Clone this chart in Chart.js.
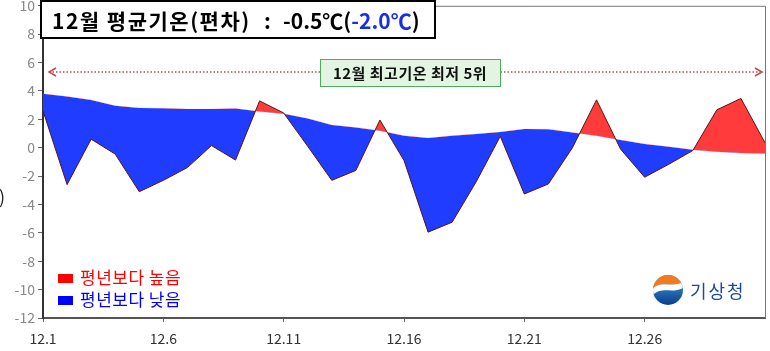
<!DOCTYPE html>
<html>
<head>
<meta charset="utf-8">
<script src="https://cdn.jsdelivr.net/npm/chart.js@4"></script>
<style>
  html, body { margin: 0; padding: 0; background: #fff; }
  #wrap { width: 770px; height: 351px; position: relative; }
</style>
</head>
<body>
<div id="wrap"><canvas id="chart" width="770" height="351"></canvas></div>
<script>
// December 1..31
const days = Array.from({ length: 31 }, (_, i) => i + 1);
// daily mean temperature deviation (°C)
const daily = [2.6, -2.6, 0.6, -0.45, -3.1, -2.3, -1.4, 0.15, -0.87, 3.3,
  2.45, 0.1, -2.3, -1.6, 1.95, -0.9, -5.95, -5.25, -2.4, 0.8,
  -3.26, -2.55, 0.0, 3.37, -0.1, -2.08, -1.17, -0.2, 2.67, 3.47, 0.35];
// climatological normal (°C)
const normal = [3.8, 3.6, 3.37, 2.95, 2.8, 2.78, 2.72, 2.72, 2.76, 2.55,
  2.4, 2.05, 1.6, 1.43, 1.2, 0.85, 0.68, 0.84, 0.96, 1.1,
  1.31, 1.3, 1.08, 0.84, 0.54, 0.26, 0.07, -0.15, -0.28, -0.38, -0.4];
const yTicks = [10, 8, 6, 4, 2, 0, -2, -4, -6, -8, -10, -12];

const KR = '"Noto Sans CJK KR", "Noto Sans", sans-serif';

const overlay = {
  id: 'overlay',
  afterDraw(chart) {
    const { ctx, chartArea: a } = chart;
    ctx.save();
    // frame top/right
    ctx.strokeStyle = '#777';
    ctx.lineWidth = 1;
    ctx.beginPath();
    ctx.moveTo(a.left, a.top + 0.5);
    ctx.lineTo(a.right + 0.5, a.top + 0.5);
    ctx.lineTo(a.right + 0.5, a.bottom);
    ctx.stroke();

    // title box
    ctx.fillStyle = '#fff';
    ctx.fillRect(41, 1, 394, 37);
    ctx.strokeStyle = '#000';
    ctx.lineWidth = 2;
    ctx.strokeRect(41, 1, 394, 37);
    ctx.font = 'bold 21px ' + KR;
    ctx.textBaseline = 'middle';
    ctx.textAlign = 'left';
    ctx.fillStyle = '#000';
    ctx.letterSpacing = '1.5px';
    ctx.fillText('12월 평균기온(편차)', 52, 21);
    ctx.letterSpacing = '0px';
    ctx.fillText(':', 264, 21);
    ctx.fillText('-0.5℃(', 283, 21);
    let x = 283 + ctx.measureText('-0.5℃(').width;
    ctx.fillStyle = '#1a2fe0';
    ctx.fillText('-2.0℃', x, 21);
    x += ctx.measureText('-2.0℃').width;
    ctx.fillStyle = '#000';
    ctx.fillText(')', x, 21);

    // dotted arrow line
    const ly = 72;
    ctx.strokeStyle = '#c24a4a';
    ctx.lineWidth = 1.5;
    ctx.setLineDash([1.5, 2]);
    ctx.beginPath();
    ctx.moveTo(49, ly); ctx.lineTo(760, ly);
    ctx.stroke();
    ctx.setLineDash([]);
    ctx.beginPath();
    ctx.moveTo(56, ly - 4); ctx.lineTo(49, ly); ctx.lineTo(56, ly + 4);
    ctx.moveTo(755, ly - 4); ctx.lineTo(762, ly); ctx.lineTo(755, ly + 4);
    ctx.stroke();

    // green label
    ctx.fillStyle = '#e3f4e3';
    ctx.fillRect(320, 59, 180, 27);
    ctx.strokeStyle = '#4cae5c';
    ctx.lineWidth = 1;
    ctx.strokeRect(320.5, 59.5, 180, 27);
    ctx.fillStyle = '#111';
    ctx.font = 'bold 15px ' + KR;
    ctx.textAlign = 'center';
    ctx.letterSpacing = '0.5px';
    ctx.fillText('12월 최고기온 최저 5위', 410, 73);

    // legend
    ctx.textAlign = 'left';
    ctx.font = '17px ' + KR;
    ctx.letterSpacing = '0.5px';
    ctx.fillStyle = '#ff0000';
    ctx.fillRect(58, 274, 15, 9);
    ctx.fillText('평년보다 높음', 80, 278);
    ctx.fillStyle = '#0000ff';
    ctx.fillRect(58, 296, 15, 9);
    ctx.fillText('평년보다 낮음', 80, 300);

    // KMA logo
    const cx = 668, cy = 290, r = 15;
    ctx.save();
    ctx.beginPath();
    ctx.arc(cx, cy, r, 0, Math.PI * 2);
    ctx.clip();
    const g = ctx.createLinearGradient(cx, cy - r, cx, cy + r);
    g.addColorStop(0, '#3aa0dc');
    g.addColorStop(1, '#0d3d8c');
    ctx.fillStyle = g;
    ctx.fillRect(cx - r, cy - r, 2 * r, 2 * r);
    ctx.fillStyle = '#f47a20';
    ctx.beginPath();
    ctx.moveTo(cx - r, cy - 2);
    ctx.bezierCurveTo(cx - 6, cy - 10, cx + 4, cy - 2, cx + r, cy - 8);
    ctx.lineTo(cx + r, cy - r); ctx.lineTo(cx - r, cy - r);
    ctx.closePath();
    ctx.fill();
    ctx.fillStyle = '#ffffff';
    ctx.beginPath();
    ctx.moveTo(cx - r, cy - 2);
    ctx.bezierCurveTo(cx - 6, cy - 10, cx + 4, cy - 2, cx + r, cy - 8);
    ctx.lineTo(cx + r, cy - 2);
    ctx.bezierCurveTo(cx + 4, cy + 4, cx - 6, cy - 4, cx - r, cy + 5);
    ctx.closePath();
    ctx.fill();
    ctx.restore();
    ctx.fillStyle = '#1f4a96';
    ctx.font = '18px ' + KR;
    ctx.letterSpacing = '2px';
    ctx.textAlign = 'left';
    ctx.fillText('기상청', 690, 291);
    ctx.letterSpacing = '0px';

    // cut-off axis title fragment
    ctx.fillStyle = '#222';
    ctx.font = '18px ' + KR;
    ctx.fillText(')', -1, 197);
    ctx.restore();
  }
};

new Chart(document.getElementById('chart'), {
  type: 'line',
  data: {
    datasets: [
      {
        label: 'daily',
        data: days.map((d, i) => ({ x: d, y: daily[i] })),
        borderColor: '#5a1414',
        borderWidth: 1,
        pointRadius: 0,
        tension: 0,
        fill: { target: 1, above: '#ff3b3b', below: '#1f3cff' }
      },
      {
        label: 'normal',
        data: days.map((d, i) => ({ x: d, y: normal[i] })),
        borderColor: 'rgba(255,120,120,0.5)',
        borderWidth: 0.5,
        pointRadius: 0,
        tension: 0,
        fill: false
      }
    ]
  },
  options: {
    responsive: false,
    animation: false,
    layout: { padding: { top: 0, right: 5, left: 0, bottom: 0 } },
    plugins: { legend: { display: false }, tooltip: { enabled: false } },
    scales: {
      x: {
        type: 'linear',
        min: 1,
        max: 31,
        afterFit: s => { s.height = 33; },
        afterBuildTicks: s => { s.ticks = [1, 6, 11, 16, 21, 26].map(v => ({ value: v })); },
        ticks: {
          color: '#333',
          font: { size: 14, family: KR },
          padding: 8,
          maxRotation: 0,
          callback: v => '12.' + v
        },
        grid: { drawOnChartArea: false, drawTicks: true, tickLength: 4, color: '#666' },
        border: { display: true, color: '#555', width: 2 }
      },
      y: {
        min: -12,
        max: 10,
        afterFit: s => { s.width = 43; },
        afterBuildTicks: s => { s.ticks = yTicks.map(v => ({ value: v })); },
        ticks: {
          color: '#888',
          font: { size: 14, family: KR, lineHeight: 0.4 },
          padding: 3
        },
        grid: { drawOnChartArea: false, drawTicks: true, tickLength: 5, color: '#666' },
        border: { display: true, color: '#333', width: 2 }
      }
    }
  },
  plugins: [overlay]
});
</script>
</body>
</html>
